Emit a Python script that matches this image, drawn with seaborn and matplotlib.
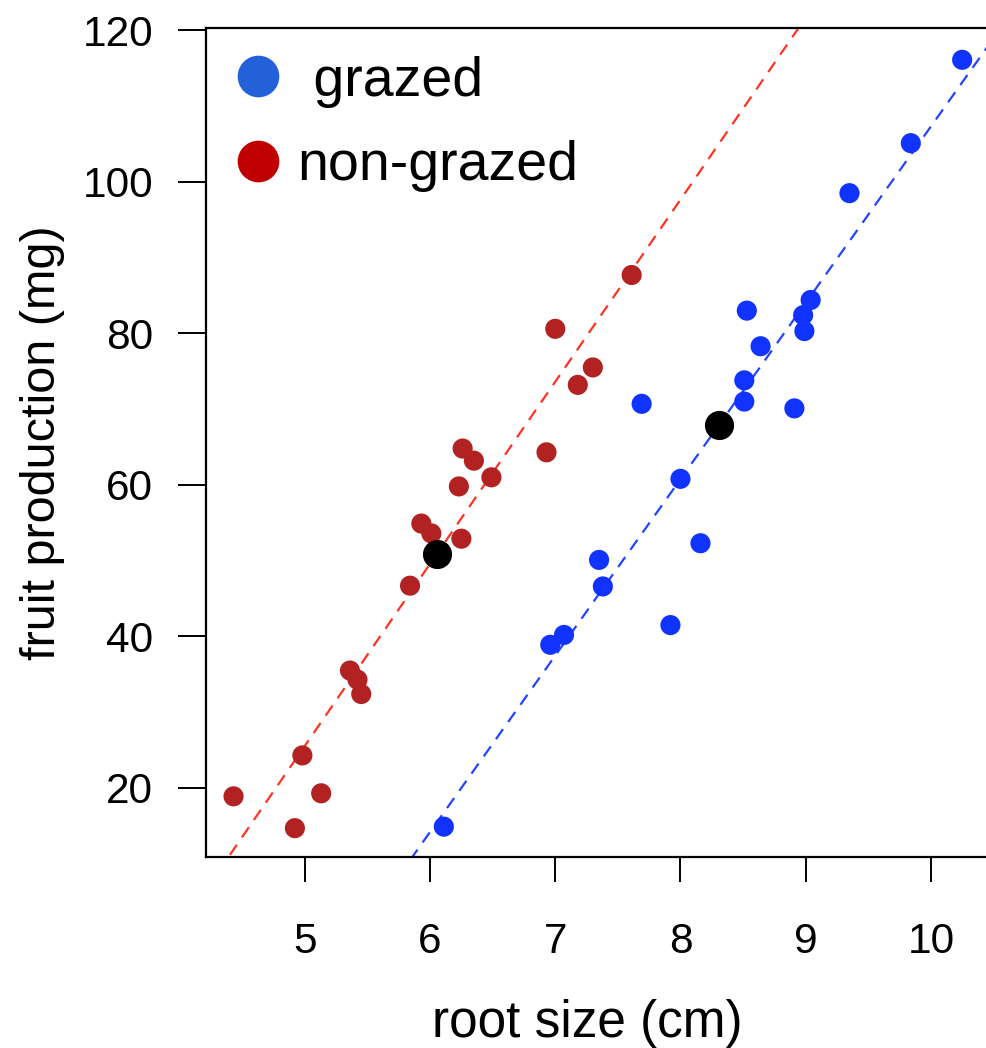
import pandas as pd
import matplotlib.pyplot as plt
import seaborn as sns
from matplotlib.lines import Line2D

# root size (cm) and fruit production (mg)
grazed_root = [6.11, 6.96, 7.07, 7.35, 7.38, 7.69, 7.92, 8.00, 8.16, 8.51,
               8.51, 8.53, 8.64, 8.91, 8.98, 8.99, 9.04, 9.35, 9.84, 10.25]
grazed_fruit = [14.9, 38.9, 40.2, 50.1, 46.6, 70.7, 41.5, 60.8, 52.3, 73.8,
                71.0, 83.0, 78.3, 70.1, 82.4, 80.3, 84.4, 98.5, 105.1, 116.1]
nongrazed_root = [4.43, 4.92, 4.98, 5.13, 5.36, 5.42, 5.45, 5.84, 5.93, 6.01,
                  6.25, 6.23, 6.26, 6.35, 6.49, 6.93, 7.00, 7.18, 7.30, 7.61]
nongrazed_fruit = [18.9, 14.7, 24.3, 19.3, 35.5, 34.3, 32.4, 46.7, 54.9, 53.6,
                   52.9, 59.8, 64.8, 63.2, 61.0, 64.3, 80.6, 73.2, 75.5, 87.7]

groups = ["grazed", "non-grazed"]
x_ticks = [5, 6, 7, 8, 9, 10]
y_ticks = [20, 40, 60, 80, 100, 120]

point_colors = {"grazed": "#1133ff", "non-grazed": "#b22222"}
line_colors = {"grazed": "#2244ff", "non-grazed": "#ff3322"}
legend_colors = {"grazed": "#2361d9", "non-grazed": "#c00000"}

df = pd.DataFrame({
    "root": grazed_root + nongrazed_root,
    "fruit": grazed_fruit + nongrazed_fruit,
    "grazing": ["grazed"] * len(grazed_root) + ["non-grazed"] * len(nongrazed_root),
})
means = df.groupby("grazing", as_index=False)[["root", "fruit"]].mean()

sns.set_theme(style="ticks")
plt.rcParams["font.family"] = ["Liberation Sans", "DejaVu Sans"]
plt.rcParams["text.color"] = "black"
plt.rcParams["axes.labelcolor"] = "black"
plt.rcParams["xtick.color"] = "black"
plt.rcParams["ytick.color"] = "black"

fig = plt.figure(figsize=(9.87, 10.48), dpi=100)
ax = fig.add_axes([0.2087, 0.1823, 0.8105, 0.7910])
ax.set_xlim(4.21, 10.6)
ax.set_ylim(10.9, 120.3)

sns.scatterplot(data=df, x="root", y="fruit", hue="grazing", palette=point_colors,
                s=210, linewidth=0, legend=False, ax=ax, zorder=3)

# separate regression line for each group, extended across the axis
for g in groups:
    sub = df[df["grazing"] == g]
    sns.regplot(data=sub, x="root", y="fruit", scatter=False, ci=None, truncate=False,
                ax=ax, line_kws={"color": line_colors[g], "lw": 1.6,
                                 "linestyle": (0, (5.5, 4))})

sns.scatterplot(data=means, x="root", y="fruit", color="black", s=440,
                linewidth=0, legend=False, ax=ax, zorder=4)

ax.set_xlim(4.21, 10.6)
ax.set_ylim(10.9, 120.3)
ax.set_xticks(x_ticks)
ax.set_yticks(y_ticks)
ax.tick_params(axis="y", length=20, width=1.4, pad=18, labelsize=30.5)
ax.tick_params(axis="x", length=18, width=1.4, pad=29, labelsize=30.5)
for s in ax.spines.values():
    s.set_linewidth(1.6)
    s.set_color("black")

ax.set_xlabel("root size (cm)", fontsize=37)
ax.set_ylabel("fruit production (mg)", fontsize=35)
ax.xaxis.set_label_coords(0.476, -0.171)
ax.yaxis.set_label_coords(-0.176, 0.5)

handles = [Line2D([], [], marker="o", linestyle="none", markersize=30,
                  markerfacecolor=legend_colors[g], markeredgewidth=0) for g in groups]
ax.legend(handles, [" grazed", "non-grazed"], loc="upper left", frameon=False,
          fontsize=40, handlelength=0.75, handletextpad=0.33, labelspacing=0.59,
          bbox_to_anchor=(-0.0125, 1.017), borderaxespad=0.35)

plt.savefig("out.png", dpi=100)
plt.close()
